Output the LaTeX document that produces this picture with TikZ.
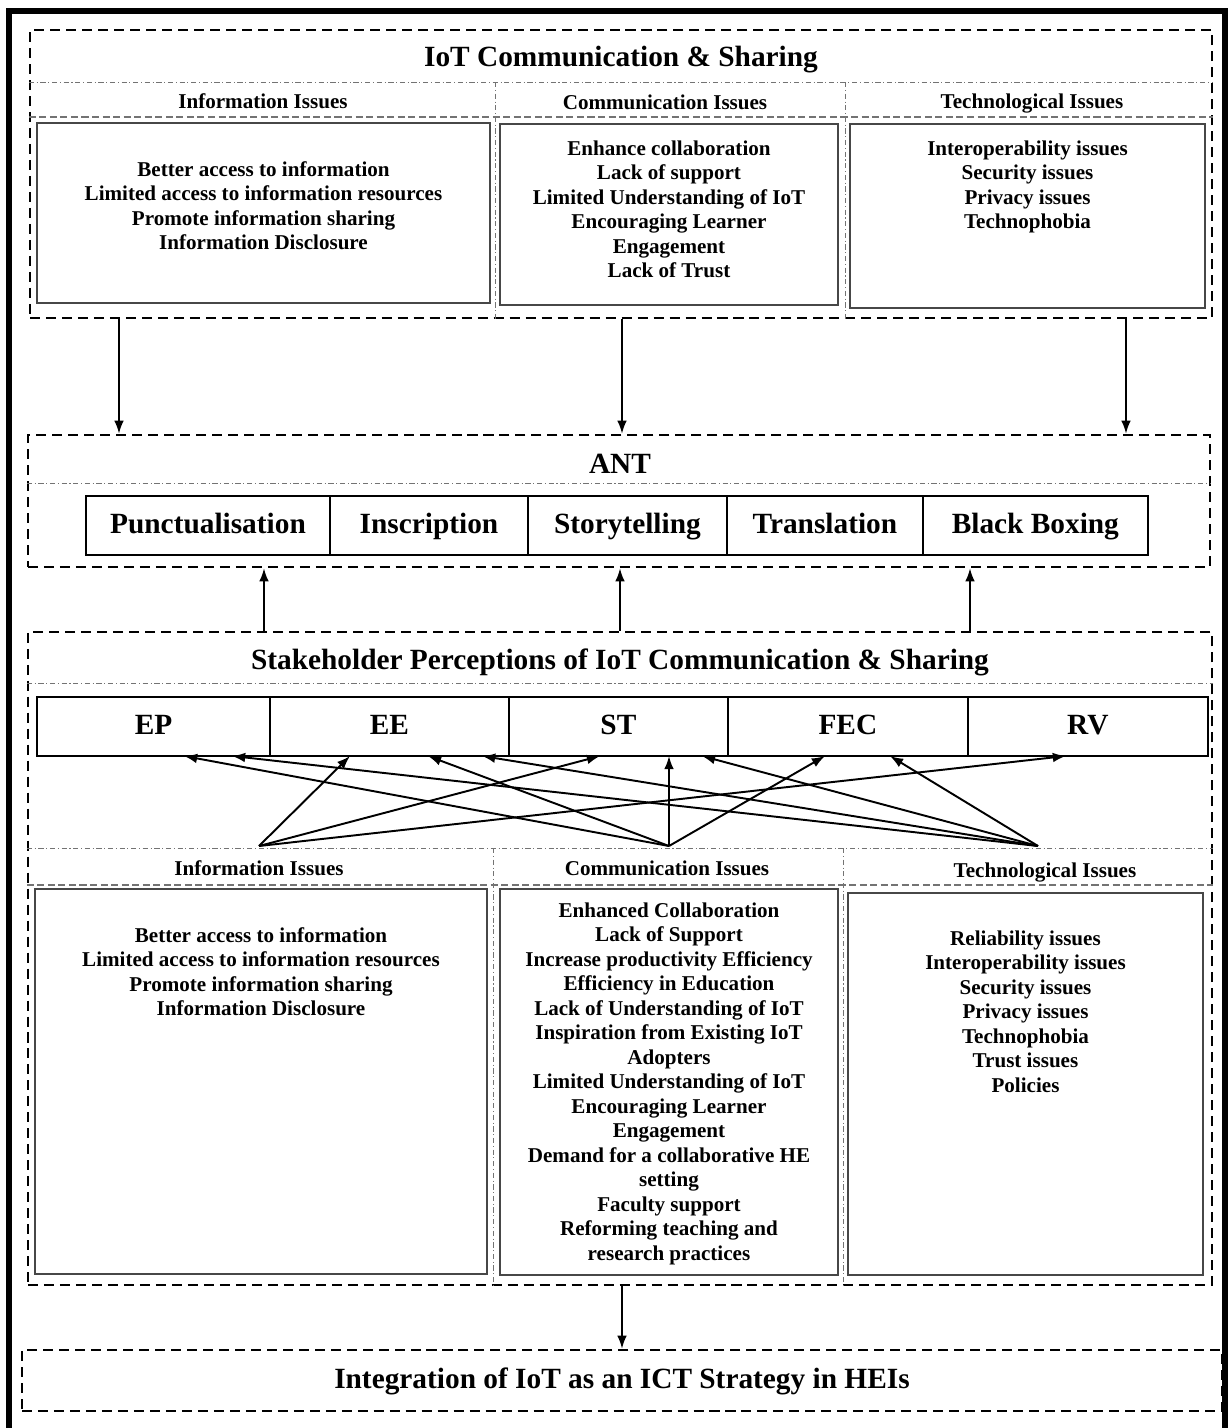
\documentclass[tikz,border=0pt]{standalone}
\usepackage{fontspec}
\setmainfont{Liberation Serif}
\usetikzlibrary{positioning,fit,arrows.meta}
\definecolor{boxgray}{rgb}{0.28,0.28,0.28}
\definecolor{sepgray}{rgb}{0.45,0.45,0.45}

\tikzset{
  grp/.style={draw, line width=1.4pt, dash pattern=on 5.7pt off 3.4pt, inner sep=0pt},
  dotsep/.style={draw=sepgray, line width=0.55pt, dash pattern=on 3pt off 1.5pt on 0.6pt off 1.5pt},
  subsep/.style={draw=sepgray, line width=0.7pt, dash pattern=on 4pt off 2pt},
  itembox/.style={draw=boxgray, line width=0.9pt, inner sep=0pt},
  items/.style={align=center, inner sep=0pt, font=\fontsize{12}{13.94}\selectfont\bfseries},
  head/.style={inner sep=0pt, text height=0.92em, text depth=0.12em,
    font=\fontsize{12}{14}\selectfont\bfseries},
  bigtitle/.style={inner sep=0pt, text height=1.08em, text depth=0.12em,
    font=\fontsize{16.7}{20}\selectfont\bfseries},
  rowbox/.style={draw, line width=1.2pt, minimum height=1.18cm, inner sep=0pt, outer sep=0pt,
    text height=1.05em, text depth=0.12em, font=\fontsize{16.7}{20}\selectfont\bfseries},
  arr/.style={line width=1.1pt, -{Latex[length=7.5pt,width=5.5pt]}}
}

\begin{document}
\begin{tikzpicture}[x=0.02cm, y=-0.02cm]
\useasboundingbox (0,0) rectangle (1231,1428);

%outer frame
\draw[line width=3.4pt] (9,1440) -- (9,11) -- (1225,11) -- (1225,1440);

%IoT communication & sharing
\node[grp, fit={(30,30) (1212,318)}] (topgrp) {};
\node[bigtitle] (toptitle) at (621,58) {IoT Communication \& Sharing};
\draw[dotsep] (topgrp.west |- 0,82) -- (topgrp.east |- 0,82);
\draw[dotsep] (495,82) -- (topgrp.south -| 495,0);
\draw[dotsep] (845,82) -- (topgrp.south -| 845,0);
\node[head] (tinfoh) at (263,101) {Information Issues};
\node[head] (tcommh) at (665,102) {Communication Issues};
\node[head] (ttechh) at (1032,101) {Technological Issues};
\draw[subsep] (topgrp.west |- 0,117) -- (topgrp.east |- 0,117);

\node[itembox, fit={(37,123) (490,303)}] (tinfo) {};
\node[itembox, fit={(500,124) (838,305)}] (tcomm) {};
\node[itembox, fit={(850,124) (1205,308)}] (ttech) {};
\node[items, below=0.78cm of tinfo.north] (tinfotxt) {Better access to information\\
  Limited access to information resources\\ Promote information sharing\\ Information Disclosure};
\node[items, below=0.34cm of tcomm.north] (tcommtxt) {Enhance collaboration\\ Lack of support\\
  Limited Understanding of IoT\\ Encouraging Learner\\ Engagement\\ Lack of Trust};
\node[items, below=0.34cm of ttech.north] (ttechtxt) {Interoperability issues\\ Security issues\\
  Privacy issues\\ Technophobia};

%ANT
\node[grp, fit={(28,435) (1210,567)}] (antgrp) {};
\node[bigtitle] (anttitle) at (620,465) {ANT};
\draw[dotsep] (antgrp.west |- 0,483) -- (antgrp.east |- 0,483);
\node[rowbox, minimum width=4.88cm] (punct) at (208,525.5) {Punctualisation};
\node[rowbox, minimum width=3.96cm, right=0pt of punct] (inscr) {Inscription};
\node[rowbox, minimum width=3.98cm, right=0pt of inscr] (story) {Storytelling};
\node[rowbox, minimum width=3.92cm, right=0pt of story] (transl) {Translation};
\node[rowbox, minimum width=4.5cm, right=0pt of transl] (blackbox) {Black Boxing};

\draw[arr] (topgrp.south -| 119,0) -- (antgrp.north -| 119,0);
\draw[arr] (topgrp.south -| 622,0) -- (antgrp.north -| 622,0);
\draw[arr] (topgrp.south -| 1126,0) -- (antgrp.north -| 1126,0);

%stakeholder perceptions
\node[grp, fit={(28,632) (1212,1285)}] (stkgrp) {};
\node[bigtitle] (stktitle) at (620,661) {Stakeholder Perceptions of IoT Communication \& Sharing};
\draw[dotsep] (stkgrp.west |- 0,683) -- (stkgrp.east |- 0,683);
\node[rowbox, minimum width=4.66cm] (ep) at (153.5,726.5) {EP};
\node[rowbox, minimum width=4.78cm, right=0pt of ep] (ee) {EE};
\node[rowbox, minimum width=4.38cm, right=0pt of ee] (st) {ST};
\node[rowbox, minimum width=4.8cm, right=0pt of st] (fec) {FEC};
\node[rowbox, minimum width=4.8cm, right=0pt of fec] (rv) {RV};

\draw[arr] (stkgrp.north -| 264,0) -- (antgrp.south -| 264,0);
\draw[arr] (stkgrp.north -| 620,0) -- (antgrp.south -| 620,0);
\draw[arr] (stkgrp.north -| 970,0) -- (antgrp.south -| 970,0);

\draw[dotsep] (stkgrp.west |- 0,848) -- (stkgrp.east |- 0,848);
\draw[dotsep] (493,848) -- (stkgrp.south -| 493,0);
\draw[dotsep] (843,848) -- (stkgrp.south -| 843,0);
\node[head] (binfoh) at (259,868) {Information Issues};
\node[head] (bcommh) at (667,868) {Communication Issues};
\node[head] (btechh) at (1045,870) {Technological Issues};
\draw[subsep] (stkgrp.west |- 0,885) -- (stkgrp.east |- 0,885);

%links
\coordinate (srcinfo) at (259,846);
\coordinate (srccomm) at (669,846);
\coordinate (srctech) at (1038,846);
\draw[arr] (srcinfo) -- (ee.south -| 350,0);
\draw[arr] (srcinfo) -- (st.south -| 600,0);
\draw[arr] (srcinfo) -- (rv.south -| 1066,0);
\draw[arr] (srccomm) -- (ep.south -| 184,0);
\draw[arr] (srccomm) -- (ee.south -| 428,0);
\draw[arr] (srccomm) -- (st.south -| 669,0);
\draw[arr] (srccomm) -- (fec.south -| 825,0);
\draw[arr] (srctech) -- (ep.south -| 232,0);
\draw[arr] (srctech) -- (ee.south -| 482,0);
\draw[arr] (srctech) -- (st.south -| 702,0);
\draw[arr] (srctech) -- (fec.south -| 890,0);

\node[itembox, fit={(35,889) (487,1274)}] (binfo) {};
\node[itembox, fit={(500,889) (838,1275)}] (bcomm) {};
\node[itembox, fit={(848,893) (1203,1275)}] (btech) {};
\node[items, below=0.78cm of binfo.north] (binfotxt) {Better access to information\\
  Limited access to information resources\\ Promote information sharing\\ Information Disclosure};
\node[items, below=0.28cm of bcomm.north] (bcommtxt) {Enhanced Collaboration\\ Lack of Support\\
  Increase productivity Efficiency\\ Efficiency in Education\\ Lack of Understanding of IoT\\
  Inspiration from Existing IoT\\ Adopters\\ Limited Understanding of IoT\\ Encouraging Learner\\
  Engagement\\ Demand for a collaborative HE\\ setting\\ Faculty support\\
  Reforming teaching and\\ research practices};
\node[items, below=0.76cm of btech.north] (btechtxt) {Reliability issues\\ Interoperability issues\\
  Security issues\\ Privacy issues\\ Technophobia\\ Trust issues\\ Policies};

%integration
\node[grp, fit={(22,1350) (1222,1411)}] (intgrp) {};
\node[bigtitle] (inttitle) at (622,1380) {Integration of IoT as an ICT Strategy in HEIs};
\draw[arr] (stkgrp.south -| 622,0) -- (intgrp.north -| 622,0);

\end{tikzpicture}
\end{document}
